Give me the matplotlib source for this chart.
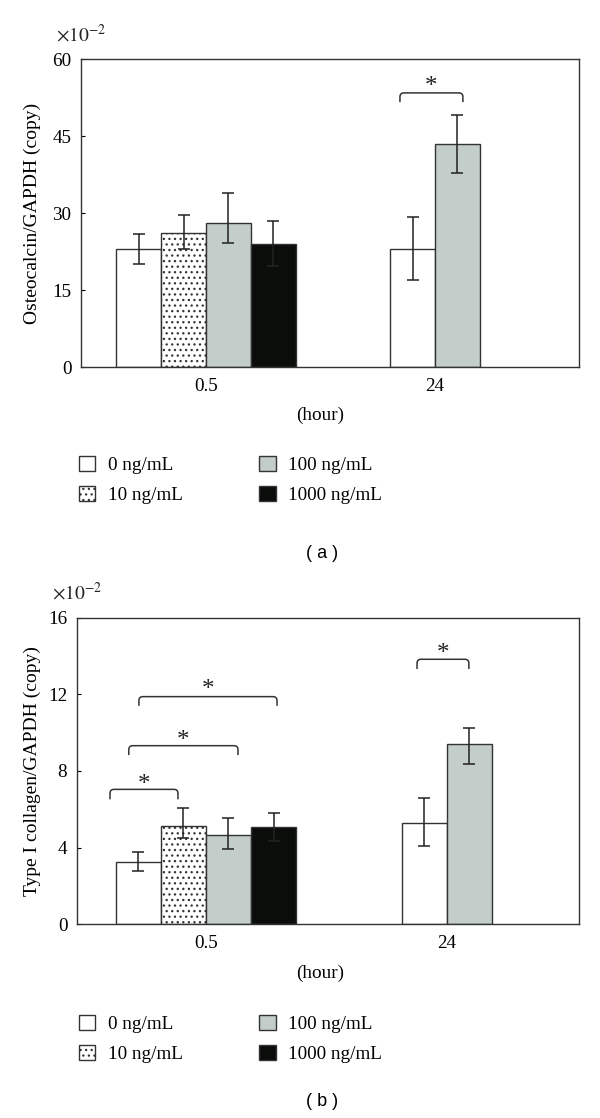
import numpy as np
import matplotlib
matplotlib.use("Agg")
import matplotlib.pyplot as plt
from matplotlib.path import Path
from matplotlib.patches import PathPatch

plt.rcParams['font.family'] = ['Liberation Serif', 'DejaVu Serif']
plt.rcParams['mathtext.fontset'] = 'stix'
plt.rcParams['hatch.linewidth'] = 0.9
plt.rcParams['hatch.color'] = '#111111'

# data
groups = ['0.5', '24']
doses = ['0 ng/mL', '10 ng/mL', '100 ng/mL', '1000 ng/mL']

# panel a: osteocalcin (x10^-2)
a_05 = [23.0, 26.2, 28.1, 24.0]
a_05_lo = [3.0, 3.2, 4.0, 4.4]
a_05_hi = [3.0, 3.4, 5.9, 4.4]
a_24 = [23.0, 43.4]          # 0 and 100 ng/mL only
a_24_lo = [6.1, 5.6]
a_24_hi = [6.2, 5.6]

# panel b: type I collagen (x10^-2)
b_05 = [3.25, 5.15, 4.68, 5.06]
b_05_lo = [0.49, 0.63, 0.75, 0.73]
b_05_hi = [0.52, 0.92, 0.85, 0.73]
b_24 = [5.27, 9.39]
b_24_lo = [1.17, 1.01]
b_24_hi = [1.34, 0.87]

# significance brackets: x0, x1, y_end, y_top, y_star
a_brackets = [(0.847, 1.122, 51.6, 53.4, 55.6)]
b_brackets = [(-0.398, -0.116, 6.52, 7.04, 7.57),
              (-0.32, 0.133, 8.83, 9.32, 9.83),
              (-0.278, 0.295, 11.4, 11.88, 12.52),
              (0.876, 1.091, 13.32, 13.83, 14.4)]

fills = ['white', 'white', '#c3cdca', '#0b0d0b']
hatches = [None, '...', None, None]
edge = '#333333'
FS = 13.8


def bracket(ax, x0, x1, yend, ytop, ystar):
    bb = ax.get_window_extent()
    xl, yl = ax.get_xlim(), ax.get_ylim()
    rx = 4.0 * (xl[1] - xl[0]) / bb.width
    ry = 4.0 * (yl[1] - yl[0]) / bb.height
    verts = [(x0, yend), (x0, ytop - ry), (x0, ytop), (x0 + rx, ytop),
             (x1 - rx, ytop), (x1, ytop), (x1, ytop - ry), (x1, yend)]
    codes = [Path.MOVETO, Path.LINETO, Path.CURVE3, Path.CURVE3,
             Path.LINETO, Path.CURVE3, Path.CURVE3, Path.LINETO]
    ax.add_patch(PathPatch(Path(verts, codes), fill=False, lw=1.1, ec=edge))
    ax.annotate('*', ((x0 + x1) / 2, ystar), xytext=(0, -4), textcoords='offset points',
                ha='center', va='center', fontsize=18, color='#222222')


def panel(ax, v05, lo05, hi05, v24, lo24, hi24, w, ylim, yticks, ylabel, brackets, labx):
    handles = []
    for i in range(4):
        x = 0 + (i - 1.5) * w
        b = ax.bar(x, v05[i], w, color=fills[i], edgecolor=edge, hatch=hatches[i],
                   lw=1.0, label=doses[i], zorder=2)
        ax.errorbar(x, v05[i], yerr=[[lo05[i]], [hi05[i]]], fmt='none', ecolor='#222222',
                    elinewidth=1.1, capsize=4.5, capthick=1.1, zorder=3)
        handles.append(b)
    for k, i in enumerate([0, 2]):
        x = 1 + (k - 0.5) * w
        ax.bar(x, v24[k], w, color=fills[i], edgecolor=edge, lw=1.0, zorder=2)
        ax.errorbar(x, v24[k], yerr=[[lo24[k]], [hi24[k]]], fmt='none', ecolor='#222222',
                    elinewidth=1.1, capsize=4.5, capthick=1.1, zorder=3)
    ax.set_ylim(*ylim)
    ax.set_yticks(yticks)
    ax.set_xticks([0, 1])
    ax.set_xticklabels(groups)
    ax.tick_params(axis='x', length=0, pad=8, labelsize=FS)
    ax.tick_params(axis='y', direction='in', length=3, pad=7, labelsize=FS)
    for s in ax.spines.values():
        s.set_linewidth(1.0)
        s.set_color(edge)
    ax.set_ylabel(ylabel, fontsize=14)
    ax.yaxis.set_label_coords(labx, 0.5)
    ax.text(0.0, 1.045, r'$\times10^{-2}$', transform=ax.transAxes, ha='center',
            va='bottom', fontsize=14, color='#222222')
    for br in brackets:
        bracket(ax, *br)
    return handles


fig = plt.figure(figsize=(6, 11.18), dpi=100)

ax1 = fig.add_axes([0.135, 0.6717, 0.83, 0.2755])
ax1.set_xlim(-0.546, 1.629)
h = panel(ax1, a_05, a_05_lo, a_05_hi, a_24, a_24_lo, a_24_hi, 0.196,
          (0, 60), [0, 15, 30, 45, 60], 'Osteocalcin/GAPDH (copy)', a_brackets, -0.080)

ax2 = fig.add_axes([0.1283, 0.1733, 0.8367, 0.2742])
ax2.set_xlim(-0.535, 1.548)
panel(ax2, b_05, b_05_lo, b_05_hi, b_24, b_24_lo, b_24_hi, 0.187,
      (0, 16), [0, 4, 8, 12, 16], 'Type I collagen/GAPDH (copy)', b_brackets, -0.072)

for yh, yl, lab, ylab in [(415, 456, '( a )', 553), (973, 1015, '( b )', 1102)]:
    fig.text(320 / 600, 1 - yh / 1118, '(hour)', ha='center', va='center', fontsize=FS)
    fig.legend(handles=h, labels=doses, ncol=2, loc='upper left',
               bbox_to_anchor=(79 / 600, 1 - yl / 1118), frameon=False,
               fontsize=FS, handlelength=0.85, handleheight=0.85,
               handletextpad=0.65, columnspacing=4.0, labelspacing=0.6,
               borderpad=0, borderaxespad=0)
    fig.text(322 / 600, 1 - ylab / 1118, lab, ha='center', va='center',
             fontsize=13, family='Liberation Sans')

fig.savefig('out.png', dpi=100)
